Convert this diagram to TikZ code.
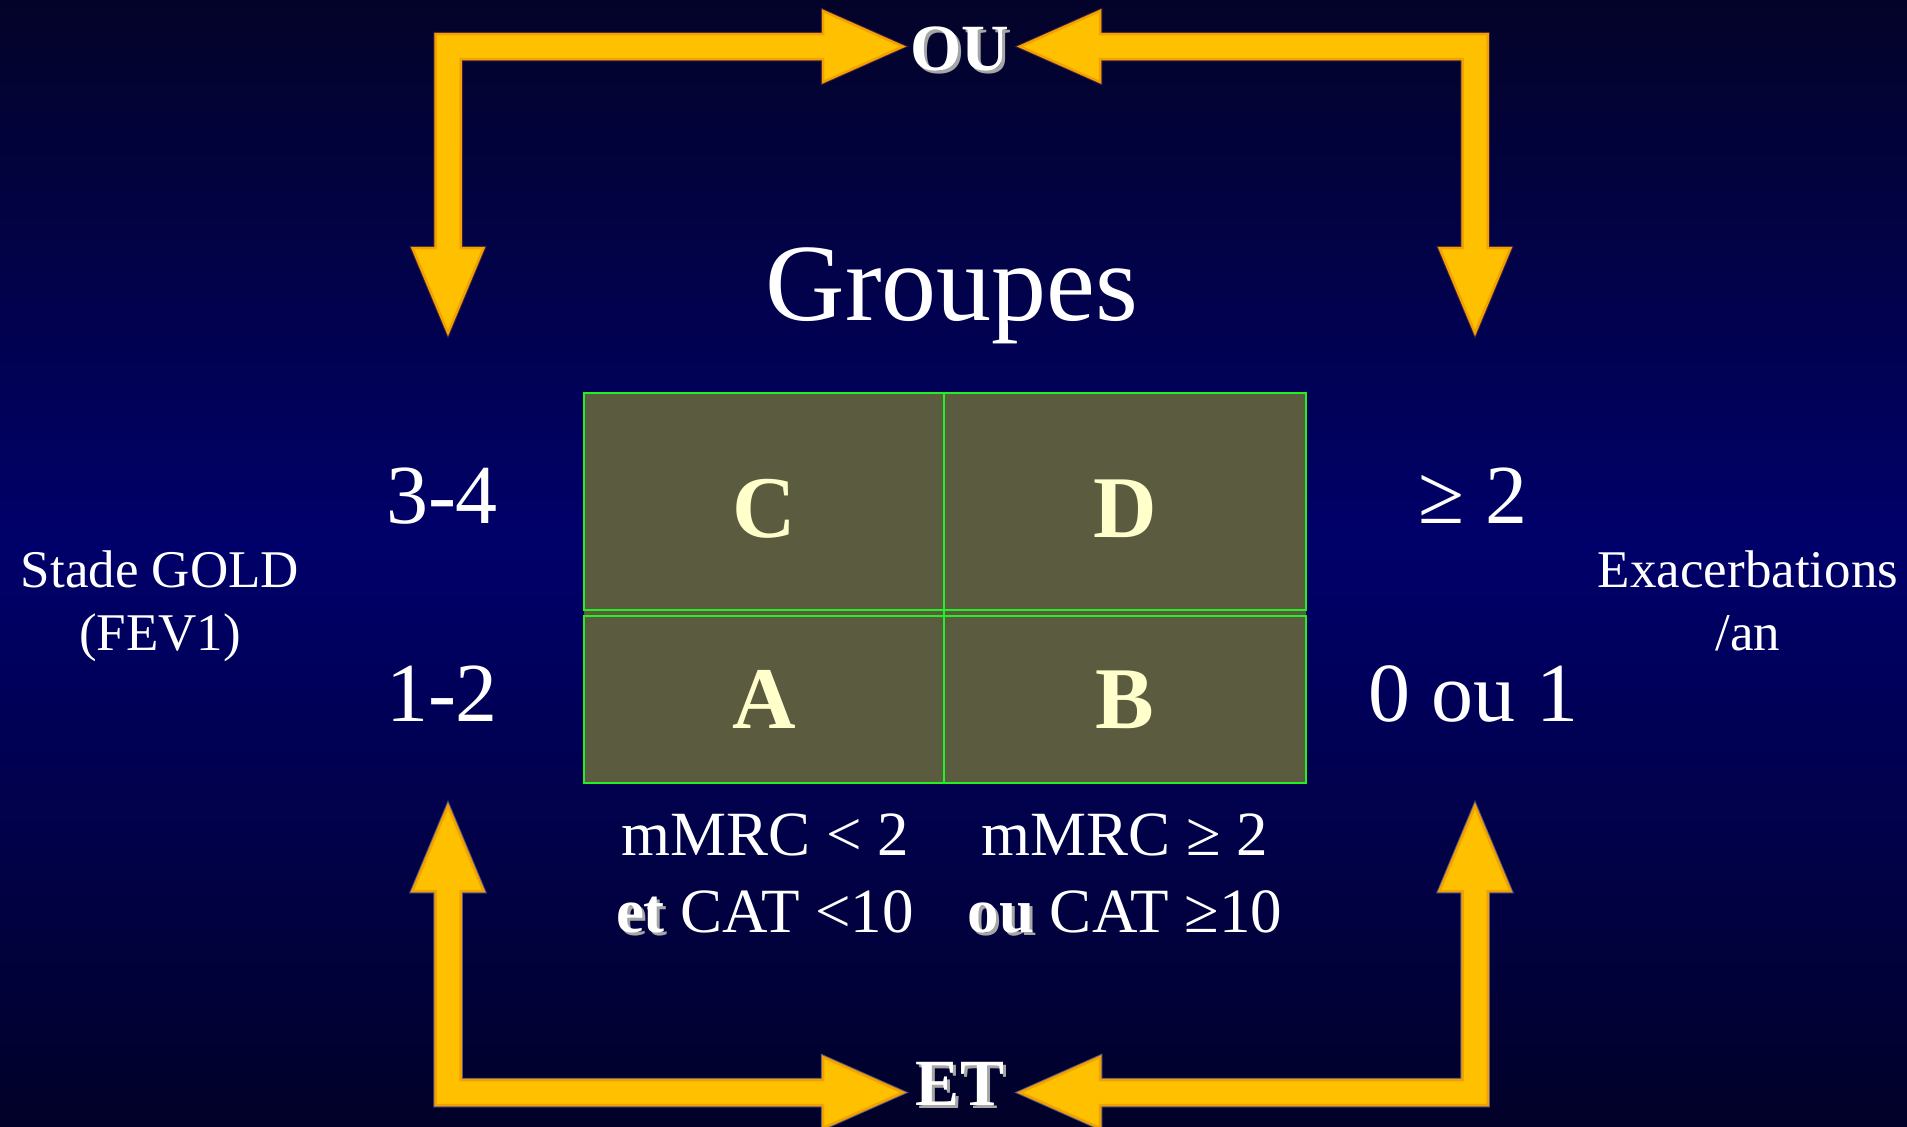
\documentclass[tikz,border=0pt]{standalone}
\usepackage{fontspec}
\setmainfont{Liberation Serif}
\definecolor{navytop}{HTML}{03032A}
\definecolor{navymid}{HTML}{00006A}
\definecolor{navybot}{HTML}{010128}
\definecolor{gold}{HTML}{FFC000}
\definecolor{goldrim}{HTML}{F2A200}
\definecolor{rimtop}{HTML}{3E1E40}
\definecolor{rimbot}{HTML}{5C5C80}
\definecolor{cellfill}{HTML}{5B5B40}
\definecolor{gridgreen}{HTML}{22F022}
\definecolor{cream}{HTML}{FFFFCC}
% text with a soft grey drop shadow to its lower right
\newcommand\dropshadow[1]{\leavevmode\rlap{\kern3pt\raisebox{-3pt}{\textcolor{gray!70}{#1}}}#1}
\begin{document}
\begin{tikzpicture}[x=1pt,y=-1pt,
  lbl/.style={text=white, inner sep=0pt, anchor=base},
  bigtitle/.style={lbl, font=\fontsize{110}{120}\selectfont},
  level/.style={lbl, font=\fontsize{84}{90}\selectfont},
  axis/.style={lbl, font=\fontsize{53}{60}\selectfont, align=center},
  crit/.style={lbl, font=\fontsize{63}{70}\selectfont},
  cell/.style={inner sep=0pt, anchor=base, text=cream, font=\fontsize{88}{90}\selectfont\bfseries},
  joint/.style={lbl, font=\fontsize{66}{70}\selectfont\bfseries},
  gridline/.style={draw=gridgreen, line width=2}]
\useasboundingbox (0,0) rectangle (1907,1127);

% vertical background gradient: dark at the edges, brightest navy a little above the middle
\foreach \yy in {0,5,...,1125}{
  \ifnum\yy<540
    \pgfmathtruncatemacro{\pp}{\yy/5.4}
    \fill[navymid!\pp!navytop] (0,\yy) rectangle (1907,\yy+5.6);
  \else
    \pgfmathtruncatemacro{\pp}{(\yy-540)/5.87}
    \fill[navybot!\pp!navymid] (0,\yy) rectangle (1907,\yy+5.6);
  \fi
}

% four elbow block arrows, mirrored about the centre of the figure
\foreach \sx/\sy/\rc in {1/1/rimtop, -1/1/rimtop, 1/-1/rimbot, -1/-1/rimbot}{
  \begin{scope}[shift={(961.5,569.5)}, xscale=\sx, yscale=\sy, shift={(-961.5,-569.5)}]
    \draw[draw=\rc, line width=4.5, line join=miter]
      (448,333) -- (483.5,248) -- (460.5,248) -- (460.5,59) -- (823,59) -- (823,82)
      -- (903,46.5) -- (823,11) -- (823,34) -- (435.5,34) -- (435.5,248) -- (412.5,248) -- cycle;
    \draw[fill=gold, draw=goldrim, line width=2.5, line join=miter]
      (448,333) -- (483.5,248) -- (460.5,248) -- (460.5,59) -- (823,59) -- (823,82)
      -- (903,46.5) -- (823,11) -- (823,34) -- (435.5,34) -- (435.5,248) -- (412.5,248) -- cycle;
  \end{scope}
}

% joining words
\node[joint] (ou) at (960,70) {\dropshadow{OU}};
\node[joint] (et) at (960,1105) {\dropshadow{ET}};

% title
\node[bigtitle] (title) at (952,320) {Groupes};

% group table
\fill[cellfill] (584,393) rectangle (1305.5,783);
\draw[gridline] (584,393) rectangle (1305.5,610);
\draw[gridline] (584,616) rectangle (1305.5,783);
\draw[gridline] (944,393) -- (944,783);
\node[cell] (C) at (764,537) {C};
\node[cell] (D) at (1125,537) {D};
\node[cell] (A) at (764,728) {A};
\node[cell] (B) at (1125,728) {B};

% GOLD stages
\node[level] (s34) at (442,523) {3-4};
\node[level] (s12) at (442,721) {1-2};
\node[axis] (gold) at (160,587) {Stade GOLD};
\node[axis] (fev) at (160,650) {(FEV1)};

% exacerbations
\node[level] (e2) at (1473,523) {≥ 2};
\node[level] (e01) at (1473,721) {0 ou 1};
\node[axis] (exa) at (1748,587) {Exacerbations};
\node[axis] (an) at (1748,650) {/an};

% symptom criteria
\node[crit] (m1) at (765,855) {mMRC < 2};
\node[crit] (m2) at (1125,855) {mMRC ≥ 2};
\node[crit] (c1) at (765,932) {\dropshadow{\textbf{et}} CAT <10};
\node[crit] (c2) at (1125,932) {\dropshadow{\textbf{ou}} CAT ≥10};
\end{tikzpicture}
\end{document}
